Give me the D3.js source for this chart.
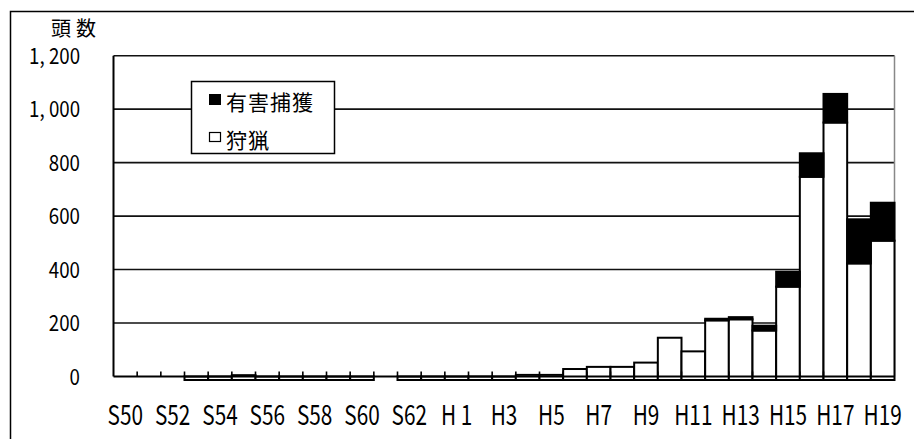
<!DOCTYPE html>
<html>
<head>
<meta charset="utf-8">
<script src="https://cdn.jsdelivr.net/npm/d3@7"></script>
<style>
  html, body { margin: 0; padding: 0; background: #fff; }
  svg { display: block; }
  text { font-family: "Noto Sans CJK JP", "Noto Sans", sans-serif; fill: #000; }
</style>
</head>
<body>
<svg id="chart" width="914" height="439"></svg>
<script>
// Fiscal years (Showa 50 – Heisei 19)
const categories = [
  "S50","S51","S52","S53","S54","S55","S56","S57","S58","S59","S60","S61","S62","S63",
  "H1","H2","H3","H4","H5","H6","H7","H8","H9","H10","H11","H12","H13","H14","H15","H16","H17","H18","H19"
];
// Labels shown under every other year
const tickLabels = ["S50","S52","S54","S56","S58","S60","S62","H 1","H3","H5","H7","H9","H11","H13","H15","H17","H19"];
// Head counts: hunting (狩猟) and nuisance control (有害捕獲); null = no record
const hunting = [null,null,null,0,0,5,0,0,0,0,0,null,0,0,
  0,0,0,6,6,28,36,36,52,145,94,210,214,172,336,747,950,423,508];
const harmful = [null,null,null,0,0,0,0,0,0,0,0,null,0,0,
  0,0,0,0,0,0,0,0,0,0,0,6,8,18,56,88,107,165,142];
const yTicks = [0,200,400,600,800,1000,1200];
const yTickLabels = ["0","200","400","600","800","1, 000","1, 200"];
const seriesNames = ["有害捕獲","狩猟"];

const svg = d3.select("#chart");

// Outer frame
svg.append("rect")
  .attr("x", 10.5).attr("y", 11.5).attr("width", 905).attr("height", 440)
  .attr("fill", "none").attr("stroke", "#000").attr("stroke-width", 1.5);

const plot = { left: 113.5, right: 894.5, top: 55.7, bottom: 376.5 };

const x = d3.scaleBand().domain(categories).range([plot.left, plot.right]).padding(0);
const y = d3.scaleLinear().domain([0, 1200]).range([plot.bottom, plot.top]);

// Horizontal gridlines
svg.append("g").selectAll("line").data(yTicks.filter(v => v > 0)).join("line")
  .attr("x1", plot.left).attr("x2", plot.right)
  .attr("y1", d => y(d)).attr("y2", d => y(d))
  .attr("stroke", "#111").attr("stroke-width", 1.6);

// Right edge of plot area
svg.append("line")
  .attr("x1", plot.right).attr("x2", plot.right)
  .attr("y1", plot.top).attr("y2", plot.bottom)
  .attr("stroke", "#888").attr("stroke-width", 1.5);

// Bars sit a little below the axis line
const baseOffset = 3.5;
const rows = categories.map((c, i) => ({ c, h: hunting[i], k: harmful[i] })).filter(d => d.h !== null);

const bars = svg.append("g");
bars.selectAll("rect.hunt").data(rows).join("rect")
  .attr("class", "hunt")
  .attr("x", d => x(d.c)).attr("width", x.bandwidth())
  .attr("y", d => y(d.h))
  .attr("height", d => y(0) + baseOffset - y(d.h))
  .attr("fill", "#fff").attr("stroke", "#000").attr("stroke-width", 2);

bars.selectAll("rect.harm").data(rows.filter(d => d.k > 0)).join("rect")
  .attr("class", "harm")
  .attr("x", d => x(d.c)).attr("width", x.bandwidth())
  .attr("y", d => y(d.h + d.k))
  .attr("height", d => y(d.h) - y(d.h + d.k))
  .attr("fill", "#000").attr("stroke", "#000").attr("stroke-width", 2);

// Value axis
svg.append("line")
  .attr("x1", plot.left).attr("x2", plot.left)
  .attr("y1", plot.top).attr("y2", plot.bottom)
  .attr("stroke", "#000").attr("stroke-width", 2);

svg.append("g").selectAll("text").data(yTicks).join("text")
  .attr("transform", d => `translate(80,${y(d) + 8}) scale(0.85,1)`)
  .attr("text-anchor", "end")
  .attr("font-size", 22)
  .text((d, i) => yTickLabels[i]);

// Axis title
svg.append("text")
  .attr("x", 51).attr("y", 36)
  .attr("font-size", 20).attr("letter-spacing", 5)
  .text("頭数");

// Category axis
svg.append("line")
  .attr("x1", plot.left).attr("x2", plot.right)
  .attr("y1", plot.bottom).attr("y2", plot.bottom)
  .attr("stroke", "#000").attr("stroke-width", 2);

svg.append("g").selectAll("line").data(categories.slice(1)).join("line")
  .attr("x1", d => x(d)).attr("x2", d => x(d))
  .attr("y1", plot.bottom).attr("y2", plot.bottom - 5)
  .attr("stroke", "#000").attr("stroke-width", 1.6);

const labelled = categories.filter((c, i) => i % 2 === 0);
svg.append("g").selectAll("text").data(labelled).join("text")
  .attr("transform", d => `translate(${x(d) + x.bandwidth() / 2},425) scale(0.8,1.05)`)
  .attr("text-anchor", "middle")
  .attr("font-size", 26)
  .text((d, i) => tickLabels[i]);

// Legend
const lg = svg.append("g");
lg.append("rect")
  .attr("x", 191.5).attr("y", 81.5).attr("width", 143).attr("height", 72)
  .attr("fill", "#fff").attr("stroke", "#000").attr("stroke-width", 1.5);
lg.append("rect").attr("x", 209).attr("y", 94).attr("width", 12).attr("height", 11)
  .attr("fill", "#000");
lg.append("rect").attr("x", 209.5).attr("y", 132.5).attr("width", 11).attr("height", 9)
  .attr("fill", "#fff").attr("stroke", "#000").attr("stroke-width", 1.2);
lg.append("text").attr("x", 226).attr("y", 110).attr("font-size", 21).attr("letter-spacing", 1)
  .text(seriesNames[0]);
lg.append("text").attr("x", 226).attr("y", 148).attr("font-size", 21).attr("letter-spacing", 1)
  .text(seriesNames[1]);
</script>
</body>
</html>
